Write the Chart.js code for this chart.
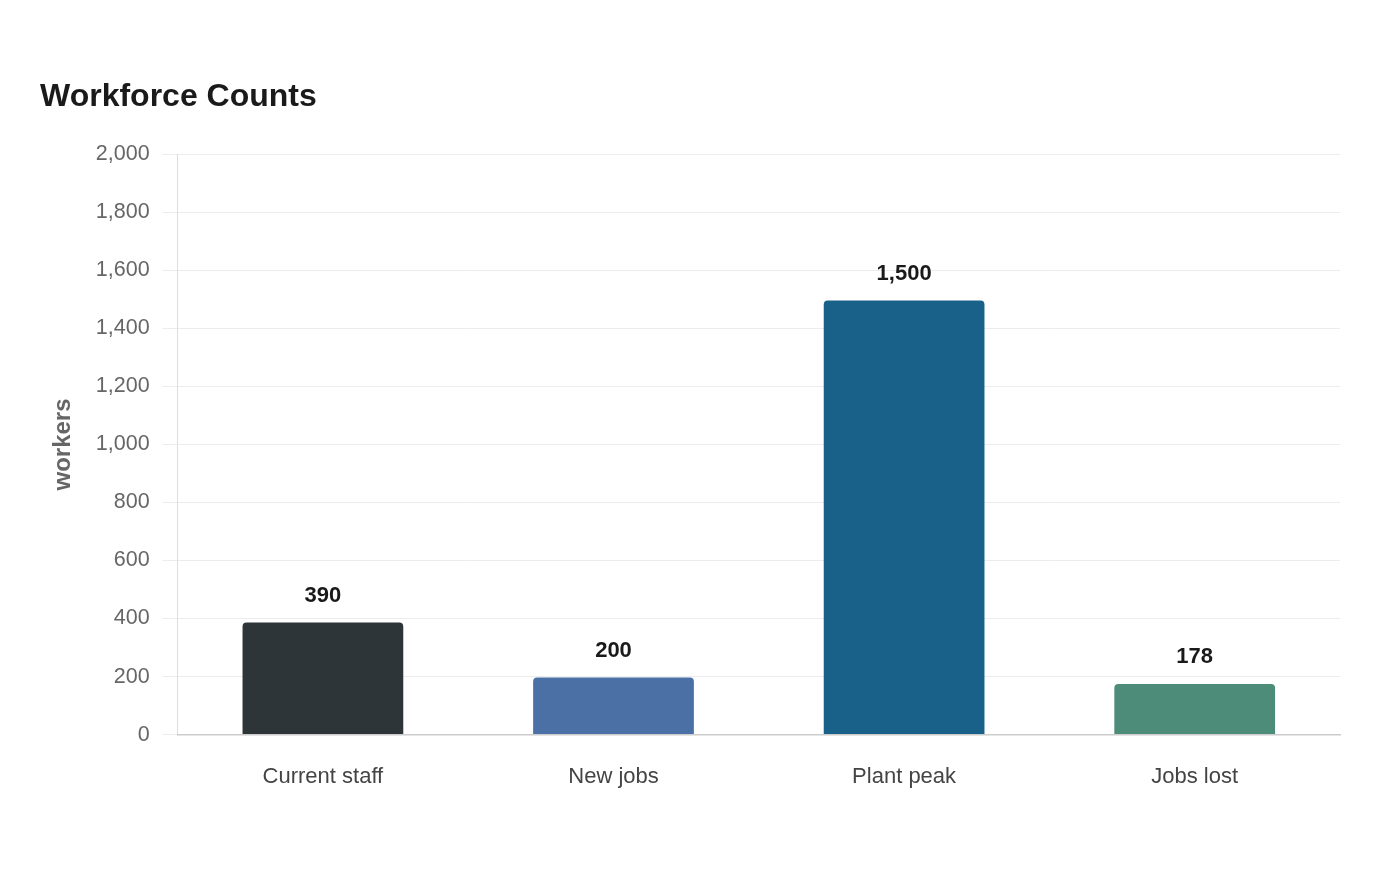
<html>
<head>
    <meta charset="utf-8">
    <script src="https://cdn.jsdelivr.net/npm/chart.js@4"></script>
    <style>
        body { margin: 0; background: #fff; }
        #wrap { width: 1400px; height: 880px; position: relative; }
    </style>
</head>
<body onload="drawChart();">
<div id="wrap">
    <canvas id="workforceChart"></canvas>
</div>

<script type="text/javascript">
    // data
    const categories = ['Current staff', 'New jobs', 'Plant peak', 'Jobs lost'];
    const workers = [390, 200, 1500, 178];
    const barColors = ['#2d3538', '#4a70a5', '#1a6189', '#4e8c7a'];
    const yTicks = [0, 200, 400, 600, 800, 1000, 1200, 1400, 1600, 1800, 2000];

    var chartObj;

    // value labels above each bar
    const valueLabels = {
        id: 'valueLabels',
        afterDatasetsDraw(chart) {
            const ctx = chart.ctx;
            const meta = chart.getDatasetMeta(0);
            ctx.save();
            ctx.font = 'bold 22px "Liberation Sans", Arial, sans-serif';
            ctx.fillStyle = '#1a1a1a';
            ctx.textAlign = 'center';
            ctx.textBaseline = 'bottom';
            meta.data.forEach((bar, i) => {
                ctx.fillText(workers[i].toLocaleString('en-US'), bar.x, bar.y - 15);
            });
            ctx.restore();
        }
    };

    function drawChart() {
        Chart.defaults.font.family = '"Liberation Sans", Arial, sans-serif';
        const canvas = document.getElementById('workforceChart');
        chartObj = new Chart(canvas, {
            type: 'bar',
            data: {
                labels: categories,
                datasets: [{
                    label: 'workers',
                    data: workers,
                    backgroundColor: barColors,
                    borderColor: 'rgba(255,255,255,0.25)',
                    borderWidth: 1,
                    borderRadius: { topLeft: 5, topRight: 5 },
                    borderSkipped: 'bottom',
                    barPercentage: 0.7,
                    categoryPercentage: 0.8
                }]
            },
            options: {
                responsive: true,
                maintainAspectRatio: false,
                animation: false,
                layout: {
                    padding: { top: 78, left: 40, right: 60, bottom: 69 }
                },
                scales: {
                    y: {
                        min: 0,
                        max: 2000,
                        afterBuildTicks: (axis) => {
                            axis.ticks = yTicks.map(v => ({ value: v }));
                        },
                        ticks: {
                            color: '#666',
                            font: { size: 21.5 },
                            padding: 13,
                            callback: (v) => v.toLocaleString('en-US')
                        },
                        grid: {
                            color: '#ececec',
                            lineWidth: 1,
                            tickLength: 15
                        },
                        border: {
                            display: true,
                            color: '#dddddd'
                        },
                        title: {
                            display: true,
                            text: 'workers',
                            color: '#666',
                            font: { size: 24, weight: 'bold' },
                            padding: { top: 9, bottom: 5 }
                        }
                    },
                    x: {
                        ticks: {
                            color: '#444',
                            font: { size: 22 },
                            padding: 21
                        },
                        grid: {
                            display: false
                        },
                        border: {
                            display: true,
                            color: '#cccccc',
                            width: 1.5
                        }
                    }
                },
                plugins: {
                    legend: { display: false },
                    tooltip: { enabled: false },
                    title: {
                        display: true,
                        text: 'Workforce Counts',
                        align: 'start',
                        color: '#1a1a1a',
                        font: { size: 32, weight: 'bold' },
                        padding: { top: 0, bottom: 38 }
                    }
                }
            },
            plugins: [valueLabels]
        });
    }
</script>
</body>
</html>
